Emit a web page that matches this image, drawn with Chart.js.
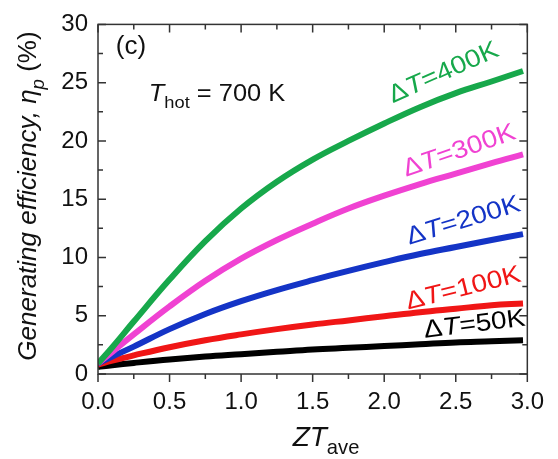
<!DOCTYPE html>
<html>
<head>
<meta charset="utf-8">
<script src="https://cdn.jsdelivr.net/npm/chart.js@4"></script>
<style>
  html, body { margin: 0; padding: 0; background: #fff; }
  #wrap { width: 558px; height: 459px; }
</style>
</head>
<body>
<div id="wrap"><canvas id="chart" width="558" height="459"></canvas></div>
<script>
const zt = [0, 0.1, 0.25, 0.5, 0.75, 1.0, 1.25, 1.5, 1.75, 2.0, 2.25, 2.5, 2.75, 2.97];

// efficiency (%) for each temperature difference
const eff400 = [0.9, 2.3, 4.5, 8.1, 11.4, 14.2, 16.5, 18.4, 20.0, 21.5, 22.9, 24.1, 25.1, 26.0];
const eff300 = [0.9, 1.9, 3.4, 5.8, 8.0, 9.9, 11.5, 12.9, 14.2, 15.3, 16.3, 17.2, 18.1, 18.85];
const eff200 = [0.9, 1.5, 2.35, 3.85, 5.15, 6.25, 7.2, 8.05, 8.85, 9.6, 10.3, 10.9, 11.5, 12.0];
const eff100 = [0.8, 1.15, 1.6, 2.3, 2.9, 3.4, 3.85, 4.25, 4.6, 4.95, 5.3, 5.6, 5.9, 6.05];
const eff50  = [0.6, 0.75, 0.95, 1.25, 1.5, 1.7, 1.9, 2.1, 2.25, 2.4, 2.55, 2.7, 2.8, 2.9];

const seriesNames = ['400K', '300K', '200K', '100K', '50K'];
const seriesColors = ['#17a84b', '#f042d2', '#1434c6', '#f01616', '#000000'];

// curve labels: [x, y] in data units and rotation in degrees
const labelPos = [[2.41, 26.0], [2.52, 19.3], [2.55, 13.3], [2.55, 7.5], [2.63, 4.4]];
const labelRot = [-24, -19, -17, -14, -7];

const FONT = '"Liberation Sans", Arial, sans-serif';

function pts(ys) {
    return zt.map((x, i) => ({ x: x, y: ys[i] }));
}

// draws a run of text parts ({t, it, sub}) centered on 0,0 of the current transform
function richText(ctx, parts, size) {
    let w = 0;
    parts.forEach(p => {
        const s = p.sub ? size * 0.72 : size;
        ctx.font = (p.it ? 'italic ' : '') + s + 'px ' + FONT;
        p.w = ctx.measureText(p.t).width;
        w += p.w;
    });
    let x = -w / 2;
    ctx.textBaseline = 'alphabetic';
    ctx.textAlign = 'left';
    parts.forEach(p => {
        const s = p.sub ? size * 0.72 : size;
        ctx.font = (p.it ? 'italic ' : '') + s + 'px ' + FONT;
        ctx.fillText(p.t, x, size * 0.36 + (p.sub ? size * 0.3 : 0));
        x += p.w;
    });
}

const decoPlugin = {
    id: 'deco',
    afterDraw(chart) {
        const ctx = chart.ctx;
        const xs = chart.scales.x, ys = chart.scales.y;
        const a = chart.chartArea;
        ctx.save();

        // frame
        ctx.strokeStyle = '#333';
        ctx.lineWidth = 1.5;
        ctx.strokeRect(a.left, a.top, a.right - a.left, a.bottom - a.top);

        // ticks: inward on top/left/right, outward on bottom
        ctx.beginPath();
        for (let v = 0; v <= 3.0001; v += 0.25) {
            const px = xs.getPixelForValue(v);
            const len = Math.abs(v * 2 - Math.round(v * 2)) < 1e-6 ? 8 : 5;
            ctx.moveTo(px, a.bottom); ctx.lineTo(px, a.bottom + len);
            ctx.moveTo(px, a.top); ctx.lineTo(px, a.top + len);
        }
        for (let v = 0; v <= 30.001; v += 2.5) {
            const py = ys.getPixelForValue(v);
            const len = v % 5 === 0 ? 8 : 5;
            ctx.moveTo(a.left, py); ctx.lineTo(a.left + len, py);
            ctx.moveTo(a.right, py); ctx.lineTo(a.right - len, py);
        }
        ctx.stroke();

        // curve labels
        chart.data.datasets.forEach((ds, i) => {
            ctx.save();
            ctx.fillStyle = ds.borderColor;
            ctx.translate(xs.getPixelForValue(labelPos[i][0]), ys.getPixelForValue(labelPos[i][1]));
            ctx.rotate(labelRot[i] * Math.PI / 180);
            ctx.scale(1.12, 1);
            richText(ctx, [{ t: '\u0394' }, { t: 'T', it: true }, { t: '=' + seriesNames[i] }], 25);
            ctx.restore();
        });

        ctx.fillStyle = '#111';
        // panel tag
        ctx.save();
        ctx.translate(131, 45);
        richText(ctx, [{ t: '(c)' }], 26);
        ctx.restore();

        // hot side temperature
        ctx.save();
        ctx.translate(217, 92);
        ctx.scale(1.06, 1);
        richText(ctx, [{ t: 'T', it: true }, { t: 'hot', sub: true }, { t: ' = 700 K' }], 24);
        ctx.restore();

        // axis titles
        ctx.save();
        ctx.translate(326, 436);
        richText(ctx, [{ t: 'ZT', it: true }, { t: 'ave', sub: true }], 28);
        ctx.restore();

        ctx.save();
        ctx.translate(27, 196);
        ctx.rotate(-Math.PI / 2);
        richText(ctx, [{ t: 'Generating efficiency, ', it: true }, { t: '\u03b7', it: true },
            { t: 'p', it: true, sub: true }, { t: ' (%)' }], 26);
        ctx.restore();

        ctx.restore();
    }
};

const datasets = [eff400, eff300, eff200, eff100, eff50].map((ys, i) => ({
    label: '\u0394T=' + seriesNames[i],
    data: pts(ys),
    borderColor: seriesColors[i],
    backgroundColor: seriesColors[i],
    borderWidth: 6,
    pointRadius: 0,
    tension: 0.4,
    borderCapStyle: 'butt',
    fill: false
}));

new Chart(document.getElementById('chart').getContext('2d'), {
    type: 'line',
    data: { datasets: datasets },
    options: {
        responsive: false,
        animation: false,
        layout: { padding: { top: 15, right: 20, left: 0, bottom: 0 } },
        plugins: { legend: { display: false }, tooltip: { enabled: false } },
        scales: {
            x: {
                type: 'linear', min: 0, max: 3,
                grid: { display: false, drawTicks: false },
                border: { display: false },
                ticks: {
                    stepSize: 0.5, padding: 14, color: '#111',
                    font: { family: FONT, size: 24 },
                    maxRotation: 0,
                    callback: v => v.toFixed(1)
                },
                afterFit: s => { s.height = 85; }
            },
            y: {
                type: 'linear', min: 0, max: 30,
                grid: { display: false, drawTicks: false },
                border: { display: false },
                ticks: {
                    stepSize: 5, padding: 10, color: '#111',
                    font: { family: FONT, size: 24 }
                },
                afterFit: s => { s.width = 98; }
            }
        }
    },
    plugins: [decoPlugin]
});
</script>
</body>
</html>
